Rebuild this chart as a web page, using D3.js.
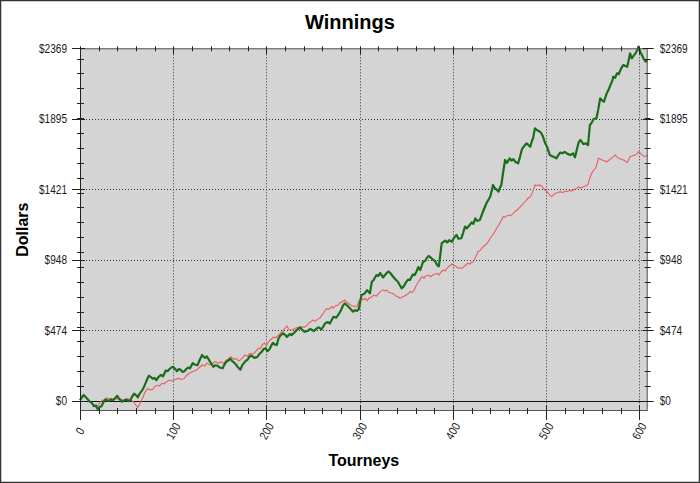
<!DOCTYPE html>
<html>
<head>
<meta charset="utf-8">
<script src="https://cdn.jsdelivr.net/npm/d3@7"></script>
<style>
  body { margin: 0; background: #fff; }
  text { font-family: "Liberation Sans", Arial, sans-serif; }
  .tick-label { font-family: "Liberation Sans", Arial, sans-serif; font-size: 12px; fill: #1a1a1a; }
</style>
</head>
<body>
<svg width="700" height="483"></svg>
<script>
// tourney number, dollars
const greenPoints = [[0,5],[2,25],[4,40],[7,20],[10,0],[13,-15],[15,-35],[17,-30],[19,-55],[21,-40],[23,-35],[25,-10],[27,10],[29,5],[31,0],[33,12],[35,5],[38,20],[40,35],[42,15],[45,-5],[48,5],[50,10],[52,0],[54,5],[56,30],[58,50],[60,40],[62,25],[64,50],[67,75],[69,100],[71,130],[73,160],[74,170],[76,160],[78,150],[80,155],[82,140],[84,160],[87,175],[89,165],[92,205],[94,200],[96,215],[98,225],[100,230],[102,215],[104,200],[106,215],[108,210],[110,195],[112,200],[114,215],[116,225],[118,220],[121,255],[123,245],[126,240],[128,270],[131,310],[133,295],[134,290],[136,300],[138,280],[140,260],[143,230],[145,240],[148,235],[150,225],[153,220],[155,245],[157,265],[159,270],[161,285],[163,270],[166,255],[169,230],[172,210],[174,240],[177,265],[180,280],[182,300],[184,305],[187,290],[190,295],[193,320],[195,330],[197,350],[199,355],[201,335],[203,345],[205,370],[207,390],[209,380],[211,375],[213,421],[215,440],[218,455],[220,445],[222,430],[225,450],[227,443],[230,460],[233,480],[236,495],[238,480],[241,465],[244,470],[247,485],[249,477],[251,470],[254,488],[256,495],[259,481],[261,500],[263,522],[266,530],[268,520],[270,544],[272,566],[275,560],[277,578],[280,610],[282,640],[284,656],[286,645],[288,633],[290,620],[293,600],[295,610],[297,605],[299,615],[301,680],[302,712],[305,720],[308,745],[311,723],[313,800],[315,813],[318,846],[320,840],[322,860],[325,830],[327,845],[329,860],[331,870],[333,858],[336,835],[338,820],[341,801],[343,779],[345,757],[347,768],[350,800],[352,815],[354,813],[357,850],[359,846],[361,870],[363,900],[365,880],[368,935],[370,940],[372,960],[374,975],[376,965],[379,947],[381,940],[383,913],[385,905],[388,1059],[390,1070],[392,1077],[394,1065],[396,1080],[399,1070],[401,1095],[404,1115],[406,1090],[409,1093],[411,1130],[413,1171],[415,1160],[418,1182],[420,1200],[422,1190],[424,1227],[426,1210],[429,1216],[431,1250],[433,1283],[436,1328],[438,1350],[440,1372],[442,1420],[443,1451],[445,1430],[447,1420],[449,1406],[451,1440],[452,1451],[454,1540],[456,1619],[458,1600],[461,1630],[463,1615],[465,1625],[467,1607],[470,1596],[472,1640],[474,1690],[476,1708],[479,1731],[481,1720],[483,1708],[485,1750],[486,1764],[488,1831],[490,1820],[493,1810],[495,1798],[497,1770],[499,1731],[501,1708],[504,1652],[506,1645],[508,1641],[511,1630],[513,1650],[515,1668],[518,1665],[520,1674],[523,1660],[526,1652],[529,1663],[531,1637],[533,1690],[535,1740],[537,1753],[540,1726],[543,1730],[545,1719],[547,1854],[549,1870],[551,1894],[554,1899],[556,1960],[558,2033],[560,2020],[562,2010],[565,2066],[567,2090],[569,2122],[571,2150],[572,2178],[574,2170],[576,2201],[578,2195],[579,2212],[581,2240],[583,2257],[585,2250],[587,2245],[589,2300],[590,2335],[592,2302],[594,2320],[596,2335],[598,2360],[599,2380],[601,2346],[603,2320],[605,2295],[607,2279],[609,2295]];

const redPoints = [[0,5],[2,25],[4,40],[7,20],[10,0],[13,-15],[15,-35],[17,-38],[19,-30],[21,-15],[24,7],[26,0],[28,20],[30,18],[32,10],[35,11],[38,25],[40,12],[42,18],[45,10],[47,7],[50,15],[53,11],[55,5],[57,-5],[59,-20],[62,-43],[64,-20],[66,7],[68,30],[69,52],[71,70],[73,85],[75,75],[78,78],[80,95],[83,107],[85,100],[88,119],[90,115],[93,130],[96,141],[98,135],[101,141],[104,150],[106,152],[109,145],[112,152],[114,170],[117,186],[120,195],[122,200],[125,208],[128,225],[131,242],[134,235],[136,255],[139,242],[142,250],[144,260],[146,264],[148,250],[151,264],[154,253],[157,275],[160,285],[162,297],[165,280],[168,285],[170,270],[172,275],[175,295],[177,309],[180,300],[182,320],[185,315],[188,329],[191,354],[193,350],[196,380],[198,390],[200,370],[202,395],[204,410],[206,420],[208,430],[210,425],[213,443],[215,455],[218,470],[220,490],[222,504],[224,480],[227,477],[230,485],[233,495],[236,488],[238,500],[240,495],[243,504],[245,520],[247,530],[250,544],[252,535],[255,550],[257,555],[260,580],[263,611],[265,620],[267,615],[270,633],[272,625],[274,640],[277,645],[279,660],[282,670],[284,678],[286,665],[288,655],[290,645],[292,640],[295,635],[297,633],[299,670],[300,678],[302,690],[304,680],[306,690],[308,675],[310,690],[313,700],[315,712],[318,705],[320,720],[322,735],[325,745],[327,740],[329,745],[331,730],[333,727],[336,720],[339,705],[341,700],[343,690],[345,695],[348,705],[350,712],[352,720],[354,734],[356,730],[358,740],[361,779],[363,800],[365,820],[367,835],[369,825],[371,840],[374,846],[376,835],[378,845],[380,850],[383,858],[385,846],[387,865],[390,880],[392,875],[394,895],[396,905],[399,920],[401,912],[404,902],[406,891],[408,895],[410,891],[412,905],[414,915],[416,925],[418,920],[420,930],[422,935],[424,960],[427,1003],[429,1010],[431,1025],[433,1040],[435,1048],[437,1060],[440,1093],[442,1110],[444,1126],[447,1160],[449,1180],[451,1200],[454,1238],[456,1235],[458,1245],[460,1249],[462,1245],[465,1260],[467,1275],[469,1283],[471,1295],[474,1316],[476,1330],[479,1350],[481,1365],[483,1372],[485,1395],[487,1430],[488,1451],[490,1448],[493,1450],[495,1444],[497,1430],[499,1417],[501,1406],[504,1383],[506,1372],[508,1385],[510,1395],[513,1400],[515,1406],[518,1400],[520,1410],[522,1406],[525,1415],[527,1410],[529,1417],[532,1425],[535,1439],[537,1430],[540,1439],[543,1445],[545,1457],[547,1500],[549,1529],[551,1550],[553,1563],[555,1600],[556,1630],[558,1625],[560,1619],[562,1615],[565,1607],[568,1620],[570,1630],[572,1640],[574,1652],[576,1640],[578,1630],[580,1625],[583,1619],[585,1610],[587,1601],[590,1641],[592,1645],[594,1650],[596,1652],[598,1665],[599,1674],[601,1665],[603,1652],[606,1641],[608,1648],[609,1652]];

const xTickValues = [0, 100, 200, 300, 400, 500, 600];
const yTickValues = [0, 473.8, 947.6, 1421.4, 1895.2, 2369];
const yTickLabels = ["$0", "$474", "$948", "$1421", "$1895", "$2369"];

const width = 700, height = 483;
const plot = { left: 80, right: 647.7, top: 48.3, bottom: 411 };
const narrow = 0.84; // squeeze tick labels horizontally like the condensed original font

const svg = d3.select("svg");

// outer frame
svg.append("rect")
  .attr("x", 0.5).attr("y", 0.5)
  .attr("width", width - 1).attr("height", height - 1)
  .attr("fill", "#fff").attr("stroke", "#333").attr("stroke-width", 1.5);

const x = d3.scaleLinear().domain([0, 609]).range([plot.left, plot.right]);
const y = d3.scaleLinear().domain([-67, 2369]).range([plot.bottom, plot.top]);

// plot background
svg.append("rect")
  .attr("x", plot.left).attr("y", plot.top)
  .attr("width", plot.right - plot.left).attr("height", plot.bottom - plot.top)
  .attr("fill", "#d4d4d4");

// dotted grid
const grid = svg.append("g").attr("stroke", "#333").attr("stroke-width", 1).attr("stroke-dasharray", "1,2");
grid.selectAll(".gx").data(xTickValues.filter(d => d > 0))
  .enter().append("line")
    .attr("x1", d => Math.round(x(d)) + 0.5).attr("x2", d => Math.round(x(d)) + 0.5)
    .attr("y1", plot.top).attr("y2", plot.bottom);
grid.selectAll(".gy").data(yTickValues.filter(d => d > 0 && d < 2369))
  .enter().append("line")
    .attr("x1", plot.left).attr("x2", plot.right)
    .attr("y1", d => Math.round(y(d)) + 0.5).attr("y2", d => Math.round(y(d)) + 0.5);

// zero line
svg.append("line")
  .attr("x1", plot.left).attr("x2", plot.right)
  .attr("y1", Math.round(y(0)) + 0.5).attr("y2", Math.round(y(0)) + 0.5)
  .attr("stroke", "#111").attr("stroke-width", 1);

// series
const line = d3.line().x(d => x(d[0])).y(d => y(d[1]));
svg.append("path").datum(redPoints)
  .attr("d", line).attr("fill", "none")
  .attr("stroke", "#ee5c5c").attr("stroke-width", 1.1);
svg.append("path").datum(greenPoints)
  .attr("d", line).attr("fill", "none")
  .attr("stroke", "#1a6e1a").attr("stroke-width", 2.2).attr("stroke-linejoin", "round");

// plot border
svg.append("rect")
  .attr("x", plot.left + 0.5).attr("y", plot.top + 0.5)
  .attr("width", plot.right - plot.left - 1).attr("height", plot.bottom - plot.top - 1)
  .attr("fill", "none").attr("stroke", "#555").attr("stroke-width", 1);
svg.append("line")
  .attr("x1", plot.left + 0.5).attr("x2", plot.left + 0.5)
  .attr("y1", plot.top).attr("y2", plot.bottom + 6)
  .attr("stroke", "#222");

// tick marks
const ticks = svg.append("g").attr("stroke", "#222").attr("stroke-width", 1);
const yMinor = d3.range(100, 2369, 100);
const xMinor = d3.range(20, 609, 20).filter(d => d % 100 !== 0);

yMinor.forEach(v => {
  const yy = Math.round(y(v)) + 0.5;
  ticks.append("line").attr("x1", plot.left - 3).attr("x2", plot.left + 4).attr("y1", yy).attr("y2", yy);
  ticks.append("line").attr("x1", plot.right - 3).attr("x2", plot.right + 3).attr("y1", yy).attr("y2", yy);
});
yTickValues.forEach(v => {
  const yy = Math.round(y(v)) + 0.5;
  ticks.append("line").attr("x1", plot.left - 8).attr("x2", plot.left + 5).attr("y1", yy).attr("y2", yy);
  ticks.append("line").attr("x1", plot.right - 5).attr("x2", plot.right + 6).attr("y1", yy).attr("y2", yy);
});
xMinor.forEach(v => {
  const xx = Math.round(x(v)) + 0.5;
  ticks.append("line").attr("x1", xx).attr("x2", xx).attr("y1", plot.bottom - 3).attr("y2", plot.bottom + 3);
  ticks.append("line").attr("x1", xx).attr("x2", xx).attr("y1", plot.top - 2).attr("y2", plot.top + 3);
});
xTickValues.forEach(v => {
  const xx = Math.round(x(v)) + 0.5;
  ticks.append("line").attr("x1", xx).attr("x2", xx).attr("y1", plot.bottom - 6).attr("y2", plot.bottom + 9);
  ticks.append("line").attr("x1", xx).attr("x2", xx).attr("y1", plot.top - 2).attr("y2", plot.top + 6);
});

// tick labels
svg.selectAll(".yl").data(yTickValues).enter().append("text")
  .attr("class", "tick-label")
  .attr("transform", d => `translate(${plot.left - 13},${y(d)}) scale(${narrow},1)`)
  .attr("dy", "0.35em")
  .attr("text-anchor", "end")
  .text((d, i) => yTickLabels[i]);
svg.selectAll(".yr").data(yTickValues).enter().append("text")
  .attr("class", "tick-label")
  .attr("transform", d => `translate(${plot.right + 12},${y(d)}) scale(${narrow},1)`)
  .attr("dy", "0.35em")
  .attr("text-anchor", "start")
  .text((d, i) => yTickLabels[i]);
svg.selectAll(".xl").data(xTickValues).enter().append("text")
  .attr("class", "tick-label")
  .attr("transform", d => `translate(${x(d)},${plot.bottom + 20}) rotate(-60) scale(${narrow},1)`)
  .attr("text-anchor", "middle").attr("dy", "0.35em")
  .text(d => d);

// titles
svg.append("text")
  .attr("x", 350).attr("y", 29)
  .attr("text-anchor", "middle")
  .attr("font-size", 20).attr("font-weight", "bold")
  .text("Winnings");
svg.append("text")
  .attr("transform", `translate(28,${(plot.top + plot.bottom) / 2}) rotate(-90)`)
  .attr("text-anchor", "middle")
  .attr("font-size", 16).attr("font-weight", "bold")
  .text("Dollars");
svg.append("text")
  .attr("x", (plot.left + plot.right) / 2).attr("y", 466)
  .attr("text-anchor", "middle")
  .attr("font-size", 16).attr("font-weight", "bold")
  .text("Tourneys");
</script>
</body>
</html>
